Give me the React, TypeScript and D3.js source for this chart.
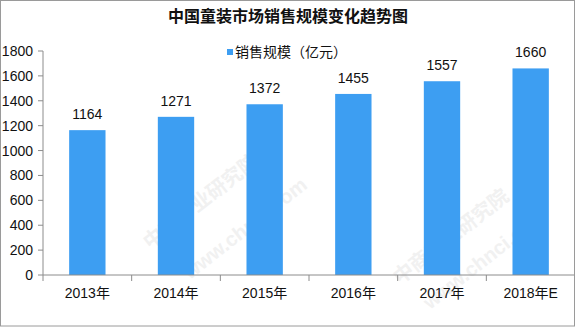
import React from "react";
import * as d3 from "d3";

const categories = ["2013年", "2014年", "2015年", "2016年", "2017年", "2018年E"];
const values = [1164, 1271, 1372, 1455, 1557, 1660];
const yTicks = [0, 200, 400, 600, 800, 1000, 1200, 1400, 1600, 1800];
const title = "中国童装市场销售规模变化趋势图";
const seriesName = "销售规模（亿元）";
const watermarkTexts = ["中商产业研究院", "www.chnci.com"];

const W = 576;
const H = 327;
const left = 43;
const right = 575;
const top = 51;
const bottom = 275;
const barColor = "#3d9ef2";
const axisColor = "#8c8c8c";
const font = "'Liberation Sans', 'Noto Sans CJK SC', sans-serif";

const watermarkSpots = [
  { x: 150, y: 250, k: 0 },
  { x: 190, y: 280, k: 1 },
  { x: 400, y: 285, k: 0 },
  { x: 430, y: 310, k: 1 },
];

export default function App() {
  const x = d3.scaleBand<string>().domain(categories).range([left, right]).padding(0);
  const y = d3.scaleLinear().domain([0, 1800]).range([bottom, top]);
  const bw = x.bandwidth() * 0.41;

  return (
    <svg
      width={W}
      height={H}
      style={{ position: "absolute", left: 0, top: 0, display: "block", background: "#fff" }}
      fontFamily={font}
    >
      <rect x={0} y={0} width={W} height={H} fill="#fff" />
      {watermarkSpots.map((w, i) => (
        <text
          key={i}
          x={w.x}
          y={w.y}
          transform={`rotate(-38 ${w.x} ${w.y})`}
          fontSize={20}
          fontWeight="bold"
          fill="#f1f1f1"
        >
          {watermarkTexts[w.k]}
        </text>
      ))}
      <text x={288} y={22} textAnchor="middle" fontSize={16} fontWeight="bold" fill="#111">
        {title}
      </text>
      <rect x={227} y={49} width={6} height={6} fill={barColor} />
      <text x={235} y={57} fontSize={14} fill="#111">
        {seriesName}
      </text>

      {values.map((v, i) => {
        const cx = (x(categories[i]) as number) + x.bandwidth() / 2;
        return (
          <g key={i}>
            <rect x={cx - bw / 2} y={y(v)} width={bw} height={bottom - y(v)} fill={barColor} />
            <text x={cx} y={y(v) - 11} textAnchor="middle" fontSize={14} fill="#111">
              {v}
            </text>
          </g>
        );
      })}

      {/* y axis */}
      <line x1={left} x2={left} y1={top} y2={bottom} stroke={axisColor} strokeWidth={1} />
      {yTicks.map((t) => (
        <g key={t}>
          <line x1={left - 5} x2={left} y1={y(t)} y2={y(t)} stroke={axisColor} />
          <text x={33} y={y(t) + 5} textAnchor="end" fontSize={14} fill="#111">
            {t}
          </text>
        </g>
      ))}

      {/* x axis */}
      <line x1={left} x2={right} y1={bottom} y2={bottom} stroke={axisColor} />
      {categories.map((c) => {
        const x0 = x(c) as number;
        return (
          <g key={c}>
            <line x1={x0} x2={x0} y1={bottom} y2={bottom + 6} stroke={axisColor} />
            <text x={x0 + x.bandwidth() / 2} y={298} textAnchor="middle" fontSize={14} fill="#111">
              {c}
            </text>
          </g>
        );
      })}

      <rect x={0.5} y={0.5} width={574} height={325.5} fill="none" stroke="#9a9a9a" strokeWidth={1} />
    </svg>
  );
}
